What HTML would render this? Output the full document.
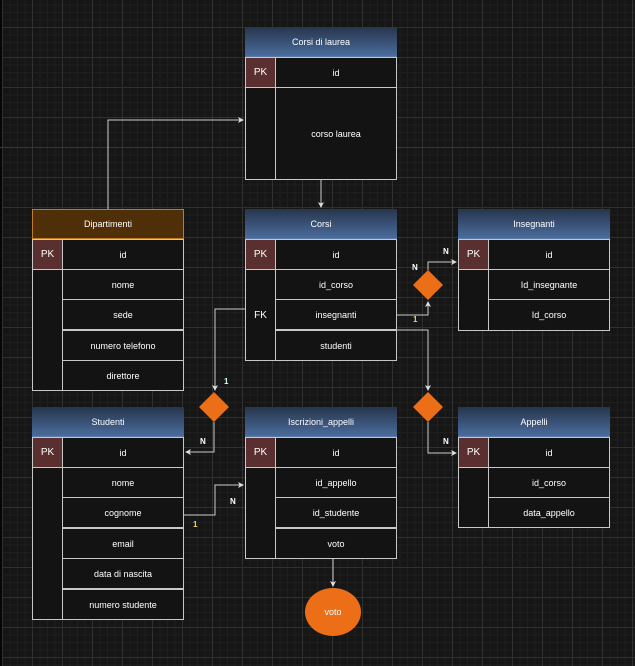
<!DOCTYPE html>
<html><head><meta charset="utf-8"><style>
html,body{margin:0;padding:0}
body{width:635px;height:666px;position:relative;overflow:hidden;background:#161616;
background-image:linear-gradient(#303030 1px,transparent 1px),linear-gradient(90deg,#303030 1px,transparent 1px),linear-gradient(#1f1f1f 1px,transparent 1px),linear-gradient(90deg,#1f1f1f 1px,transparent 1px);
background-size:30px 30px,30px 30px,7.5px 7.5px,7.5px 7.5px;background-position:2px 27px,2px 27px,2px 27px,2px 27px;
font-family:"Liberation Sans",sans-serif;font-size:9px;color:#fff}
.c{position:absolute;box-sizing:border-box;border:1px solid #c8c8c8;background:#131313;display:flex;align-items:center;justify-content:center}
.h{position:absolute;box-sizing:border-box;background:linear-gradient(#27354d,#4a6c9c);display:flex;align-items:center;justify-content:center;border-bottom:1px solid #5a7aa8}
.pk{background:#5a2f2f;font-size:10px}
.l{position:absolute;font-size:8px;font-weight:bold}
</style></head><body>
<div style="position:absolute;left:0;top:0;width:2px;height:666px;background:#050505"></div>
<div style="position:absolute;left:0;top:147px;width:635px;border-top:1px dashed #3a3a3a"></div>

<svg style="position:absolute;left:0;top:0" width="635" height="666">
<defs><marker id="a" markerWidth="6" markerHeight="6" refX="5" refY="3" orient="auto"><path d="M0,0 L6,3 L0,6 L1.5,3z" fill="#ddd"/></marker></defs>
<g fill="none" stroke="#ccc" stroke-width="1">
<path d="M108,209 V120 H243" marker-end="url(#a)"/>
<path d="M321,180 V207" marker-end="url(#a)"/>
<path d="M397,315 H428 V302" marker-end="url(#a)"/>
<path d="M428,270 V262 H456" marker-end="url(#a)"/>
<path d="M397,330 H428 V390" marker-end="url(#a)"/>
<path d="M428,422 V453 H456" marker-end="url(#a)"/>
<path d="M245,309 H215 V390" marker-end="url(#a)"/>
<path d="M214,422 V452 H186" marker-end="url(#a)"/>
<path d="M184,515 H215 V485 H243" marker-end="url(#a)"/>
<path d="M333,559 V586" marker-end="url(#a)"/>
</g>
<g fill="#ec6e16">
<path d="M428,270 L443,285 L428,300 L413,285z"/>
<path d="M428,392 L443,407 L428,422 L413,407z"/>
<path d="M214,392 L229,407 L214,422 L199,407z"/>
<ellipse cx="333" cy="612" rx="28" ry="24"/>
</g>
<text x="333" y="615" fill="#fff" font-family="Liberation Sans" font-size="9" text-anchor="middle">voto</text>
</svg>
<div class="l" style="left:412px;top:263px;color:#fff">N</div>
<div class="l" style="left:443px;top:247px;color:#fff">N</div>
<div class="l" style="left:413px;top:315px;color:#f5d060">1</div>
<div class="l" style="left:443px;top:437px;color:#fff">N</div>
<div class="l" style="left:224px;top:377px;color:#cfe">1</div>
<div class="l" style="left:200px;top:437px;color:#fff">N</div>
<div class="l" style="left:193px;top:520px;color:#f5d060">1</div>
<div class="l" style="left:230px;top:497px;color:#fff">N</div>

<div class="h" style="left:245px;top:27px;width:152px;height:30px">Corsi di laurea</div>
<div class="c pk" style="left:245px;top:57px;width:31px;height:31px">PK</div>
<div class="c" style="left:275px;top:57px;width:122px;height:31px">id</div>
<div class="c" style="left:245px;top:87px;width:31px;height:93px"></div>
<div class="c" style="left:275px;top:87px;width:122px;height:93px">corso laurea</div>

<div class="h" style="left:32px;top:209px;width:152px;height:30px;background:#4e2f08;border:1px solid #c07a20">Dipartimenti</div>
<div class="c pk" style="left:32px;top:239px;width:31px;height:31px">PK</div>
<div class="c" style="left:62px;top:239px;width:122px;height:31px">id</div>
<div class="c" style="left:32px;top:269px;width:31px;height:122px"></div>
<div class="c" style="left:62px;top:269px;width:122px;height:31px">nome</div>
<div class="c" style="left:62px;top:299px;width:122px;height:31px">sede</div>
<div class="c" style="left:62px;top:330px;width:122px;height:31px">numero telefono</div>
<div class="c" style="left:62px;top:360px;width:122px;height:31px">direttore</div>

<div class="h" style="left:245px;top:209px;width:152px;height:30px">Corsi</div>
<div class="c pk" style="left:245px;top:239px;width:31px;height:31px">PK</div>
<div class="c" style="left:275px;top:239px;width:122px;height:31px">id</div>
<div class="c" style="left:245px;top:269px;width:31px;height:92px;font-size:10px">FK</div>
<div class="c" style="left:275px;top:269px;width:122px;height:31px">id_corso</div>
<div class="c" style="left:275px;top:299px;width:122px;height:31px">insegnanti</div>
<div class="c" style="left:275px;top:330px;width:122px;height:31px">studenti</div>

<div class="h" style="left:458px;top:209px;width:152px;height:30px">Insegnanti</div>
<div class="c pk" style="left:458px;top:239px;width:31px;height:31px">PK</div>
<div class="c" style="left:488px;top:239px;width:122px;height:31px">id</div>
<div class="c" style="left:458px;top:269px;width:31px;height:62px"></div>
<div class="c" style="left:488px;top:269px;width:122px;height:31px">Id_insegnante</div>
<div class="c" style="left:488px;top:299px;width:122px;height:32px">Id_corso</div>

<div class="h" style="left:32px;top:407px;width:152px;height:30px">Studenti</div>
<div class="c pk" style="left:32px;top:437px;width:31px;height:31px">PK</div>
<div class="c" style="left:62px;top:437px;width:122px;height:31px">id</div>
<div class="c" style="left:32px;top:467px;width:31px;height:153px"></div>
<div class="c" style="left:62px;top:467px;width:122px;height:31px">nome</div>
<div class="c" style="left:62px;top:497px;width:122px;height:31px">cognome</div>
<div class="c" style="left:62px;top:528px;width:122px;height:31px">email</div>
<div class="c" style="left:62px;top:558px;width:122px;height:31px">data di nascita</div>
<div class="c" style="left:62px;top:589px;width:122px;height:31px">numero studente</div>

<div class="h" style="left:245px;top:407px;width:152px;height:30px">Iscrizioni_appelli</div>
<div class="c pk" style="left:245px;top:437px;width:31px;height:31px">PK</div>
<div class="c" style="left:275px;top:437px;width:122px;height:31px">id</div>
<div class="c" style="left:245px;top:467px;width:31px;height:92px"></div>
<div class="c" style="left:275px;top:467px;width:122px;height:31px">id_appello</div>
<div class="c" style="left:275px;top:497px;width:122px;height:31px">id_studente</div>
<div class="c" style="left:275px;top:528px;width:122px;height:31px">voto</div>

<div class="h" style="left:458px;top:407px;width:152px;height:30px">Appelli</div>
<div class="c pk" style="left:458px;top:437px;width:31px;height:31px">PK</div>
<div class="c" style="left:488px;top:437px;width:122px;height:31px">id</div>
<div class="c" style="left:458px;top:467px;width:31px;height:61px"></div>
<div class="c" style="left:488px;top:467px;width:122px;height:31px">id_corso</div>
<div class="c" style="left:488px;top:497px;width:122px;height:31px">data_appello</div>
</body></html>
